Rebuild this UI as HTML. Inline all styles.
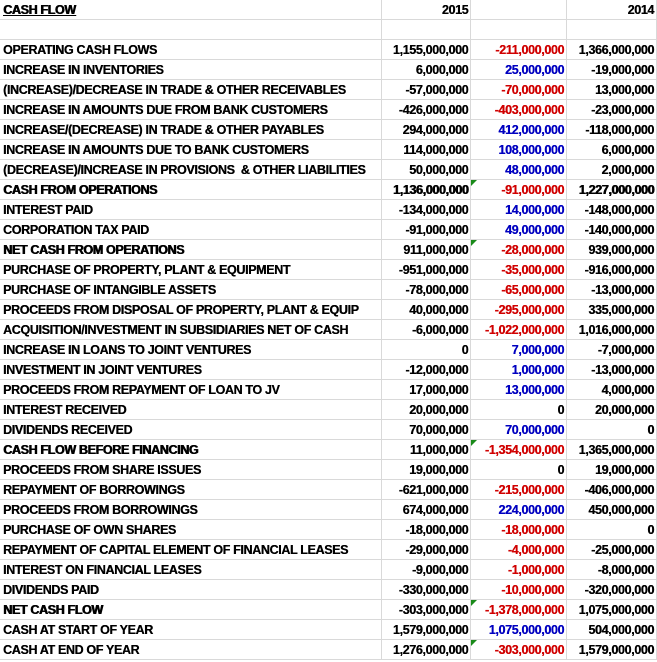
<!DOCTYPE html>
<html><head><meta charset="utf-8"><style>
body{margin:0;background:#fff;width:657px;height:662px;overflow:hidden}
table{border-collapse:collapse;table-layout:fixed;position:absolute;left:0;top:0;font-family:"Liberation Sans",Arial,sans-serif;font-weight:bold;font-size:12.5px;letter-spacing:-0.35px;color:#000}
td{height:17px;padding:2px 2px 0 3px;border-right:1px solid #d9d9d9;border-bottom:1px solid #d9d9d9;white-space:nowrap;overflow:hidden;line-height:17px;position:relative;text-shadow:0.3px 0 0 currentColor}
td.n{text-align:right;padding:2px 2px 0 0}
.r{color:#d00000}.b{color:#0000c0}
.h{text-shadow:0.7px 0 0 #000}
.g::before{content:"";position:absolute;left:0;top:0;border-top:6px solid #1a8a1a;border-right:6px solid transparent}
</style></head><body>
<table>
<colgroup><col style="width:382px"><col style="width:89px"><col style="width:96px"><col style="width:90px"></colgroup>
<tr><td class="h"><u>CASH FLOW</u></td><td class="n">2015</td><td></td><td class="n">2014</td></tr>
<tr><td></td><td></td><td></td><td></td></tr>
<tr><td>OPERATING CASH FLOWS</td><td class="n">1,155,000,000</td><td class="n r">-211,000,000</td><td class="n">1,366,000,000</td></tr>
<tr><td>INCREASE IN INVENTORIES</td><td class="n">6,000,000</td><td class="n b">25,000,000</td><td class="n">-19,000,000</td></tr>
<tr><td>(INCREASE)/DECREASE IN TRADE &amp; OTHER RECEIVABLES</td><td class="n">-57,000,000</td><td class="n r">-70,000,000</td><td class="n">13,000,000</td></tr>
<tr><td>INCREASE IN AMOUNTS DUE FROM BANK CUSTOMERS</td><td class="n">-426,000,000</td><td class="n r">-403,000,000</td><td class="n">-23,000,000</td></tr>
<tr><td>INCREASE/(DECREASE) IN TRADE &amp; OTHER PAYABLES</td><td class="n">294,000,000</td><td class="n b">412,000,000</td><td class="n">-118,000,000</td></tr>
<tr><td>INCREASE IN AMOUNTS DUE TO BANK CUSTOMERS</td><td class="n">114,000,000</td><td class="n b">108,000,000</td><td class="n">6,000,000</td></tr>
<tr><td>(DECREASE)/INCREASE IN PROVISIONS &nbsp;&amp; OTHER LIABILITIES</td><td class="n">50,000,000</td><td class="n b">48,000,000</td><td class="n">2,000,000</td></tr>
<tr><td class="h">CASH FROM OPERATIONS</td><td class="n h">1,136,000,000</td><td class="n r g">-91,000,000</td><td class="n h">1,227,000,000</td></tr>
<tr><td>INTEREST PAID</td><td class="n">-134,000,000</td><td class="n b">14,000,000</td><td class="n">-148,000,000</td></tr>
<tr><td>CORPORATION TAX PAID</td><td class="n">-91,000,000</td><td class="n b">49,000,000</td><td class="n">-140,000,000</td></tr>
<tr><td class="h">NET CASH FROM OPERATIONS</td><td class="n">911,000,000</td><td class="n r g">-28,000,000</td><td class="n">939,000,000</td></tr>
<tr><td>PURCHASE OF PROPERTY, PLANT &amp; EQUIPMENT</td><td class="n">-951,000,000</td><td class="n r">-35,000,000</td><td class="n">-916,000,000</td></tr>
<tr><td>PURCHASE OF INTANGIBLE ASSETS</td><td class="n">-78,000,000</td><td class="n r">-65,000,000</td><td class="n">-13,000,000</td></tr>
<tr><td>PROCEEDS FROM DISPOSAL OF PROPERTY, PLANT &amp; EQUIP</td><td class="n">40,000,000</td><td class="n r">-295,000,000</td><td class="n">335,000,000</td></tr>
<tr><td>ACQUISITION/INVESTMENT IN SUBSIDIARIES NET OF CASH</td><td class="n">-6,000,000</td><td class="n r">-1,022,000,000</td><td class="n">1,016,000,000</td></tr>
<tr><td>INCREASE IN LOANS TO JOINT VENTURES</td><td class="n">0</td><td class="n b">7,000,000</td><td class="n">-7,000,000</td></tr>
<tr><td>INVESTMENT IN JOINT VENTURES</td><td class="n">-12,000,000</td><td class="n b">1,000,000</td><td class="n">-13,000,000</td></tr>
<tr><td>PROCEEDS FROM REPAYMENT OF LOAN TO JV</td><td class="n">17,000,000</td><td class="n b">13,000,000</td><td class="n">4,000,000</td></tr>
<tr><td>INTEREST RECEIVED</td><td class="n">20,000,000</td><td class="n">0</td><td class="n">20,000,000</td></tr>
<tr><td>DIVIDENDS RECEIVED</td><td class="n">70,000,000</td><td class="n b">70,000,000</td><td class="n">0</td></tr>
<tr><td class="h">CASH FLOW BEFORE FINANCING</td><td class="n">11,000,000</td><td class="n r g">-1,354,000,000</td><td class="n">1,365,000,000</td></tr>
<tr><td>PROCEEDS FROM SHARE ISSUES</td><td class="n">19,000,000</td><td class="n">0</td><td class="n">19,000,000</td></tr>
<tr><td>REPAYMENT OF BORROWINGS</td><td class="n">-621,000,000</td><td class="n r">-215,000,000</td><td class="n">-406,000,000</td></tr>
<tr><td>PROCEEDS FROM BORROWINGS</td><td class="n">674,000,000</td><td class="n b">224,000,000</td><td class="n">450,000,000</td></tr>
<tr><td>PURCHASE OF OWN SHARES</td><td class="n">-18,000,000</td><td class="n r">-18,000,000</td><td class="n">0</td></tr>
<tr><td>REPAYMENT OF CAPITAL ELEMENT OF FINANCIAL LEASES</td><td class="n">-29,000,000</td><td class="n r">-4,000,000</td><td class="n">-25,000,000</td></tr>
<tr><td>INTEREST ON FINANCIAL LEASES</td><td class="n">-9,000,000</td><td class="n r">-1,000,000</td><td class="n">-8,000,000</td></tr>
<tr><td>DIVIDENDS PAID</td><td class="n">-330,000,000</td><td class="n r">-10,000,000</td><td class="n">-320,000,000</td></tr>
<tr><td class="h">NET CASH FLOW</td><td class="n">-303,000,000</td><td class="n r g">-1,378,000,000</td><td class="n">1,075,000,000</td></tr>
<tr><td>CASH AT START OF YEAR</td><td class="n">1,579,000,000</td><td class="n b">1,075,000,000</td><td class="n">504,000,000</td></tr>
<tr><td>CASH AT END OF YEAR</td><td class="n">1,276,000,000</td><td class="n r g">-303,000,000</td><td class="n">1,579,000,000</td></tr>
</table>
</body></html>
